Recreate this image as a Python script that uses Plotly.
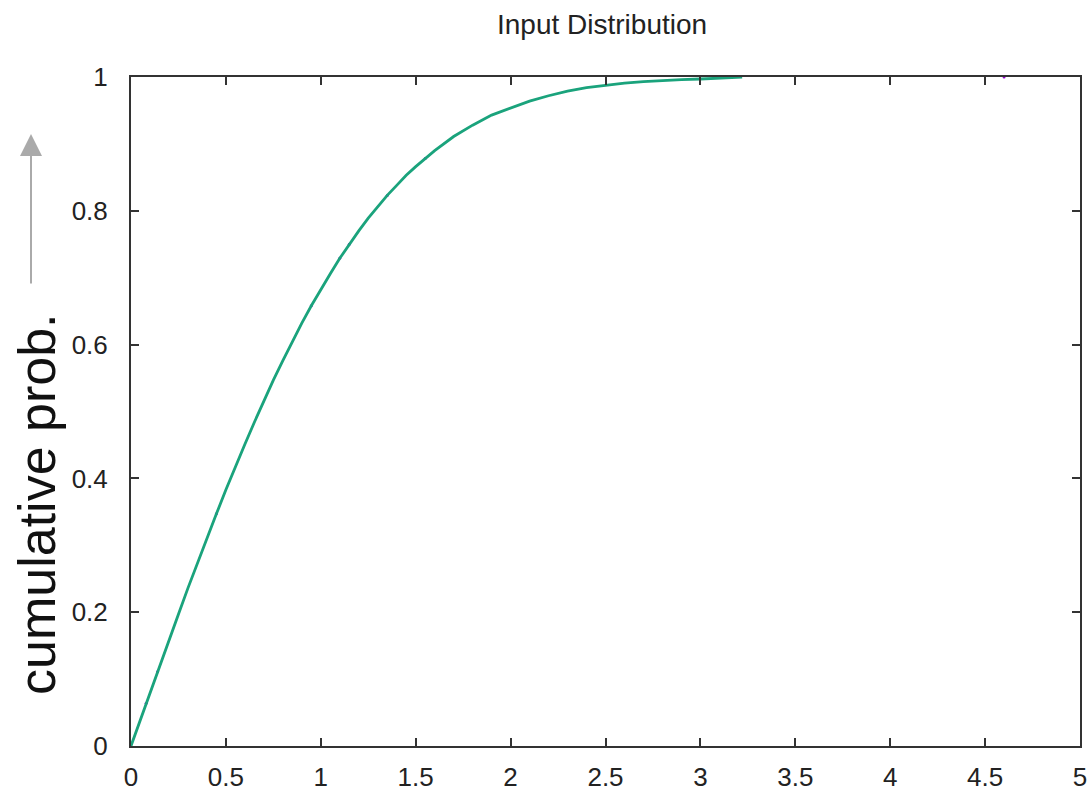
import plotly.graph_objects as go

# Cumulative distribution
x_vals = [0, 0.05, 0.1, 0.15, 0.2, 0.25, 0.3, 0.35, 0.4, 0.45, 0.5, 0.55, 0.6, 0.65, 0.7,
          0.75, 0.8, 0.85, 0.9, 0.95, 1.0, 1.05, 1.1, 1.15, 1.2, 1.25, 1.3, 1.35, 1.4, 1.45,
          1.5, 1.6, 1.7, 1.8, 1.9, 2.0, 2.1, 2.2, 2.3, 2.4, 2.5, 2.6, 2.7, 2.8, 2.9, 3.0,
          3.1, 3.22]
cum_prob = [0, 0.040, 0.080, 0.119, 0.159, 0.197, 0.236, 0.274, 0.311, 0.347, 0.383,
            0.418, 0.451, 0.484, 0.516, 0.547, 0.576, 0.605, 0.632, 0.658, 0.683, 0.706,
            0.729, 0.750, 0.770, 0.789, 0.806, 0.823, 0.838, 0.853, 0.866, 0.890, 0.911,
            0.928, 0.943, 0.954, 0.964, 0.972, 0.979, 0.984, 0.988, 0.991, 0.993, 0.995,
            0.996, 0.997, 0.998, 1.0]

# Sparse purple sample points visible under the green curve
pts_x = [0.08, 0.14, 0.45, 0.95, 1.1, 1.15, 1.35, 1.55, 4.6]
pts_y = [0.064, 0.111, 0.347, 0.658, 0.729, 0.750, 0.823, 0.878, 1.0]

x_ticks = [0, 0.5, 1, 1.5, 2, 2.5, 3, 3.5, 4, 4.5, 5]
x_ticktext = ["0", "0.5", "1", "1.5", "2", "2.5", "3", "3.5", "4", "4.5", "5"]
y_ticks = [0, 0.2, 0.4, 0.6, 0.8, 1]
y_ticktext = ["0", "0.2", "0.4", "0.6", "0.8", "1"]

title_text = "Input Distribution"
ylabel_text = "cumulative prob."

fig = go.Figure()
fig.add_trace(go.Scatter(x=pts_x, y=pts_y, mode="markers",
                         marker=dict(color="#9400d3", size=3), showlegend=False,
                         cliponaxis=False))
fig.add_trace(go.Scatter(x=x_vals, y=cum_prob, mode="lines",
                         line=dict(color="#1aa37c", width=2.8), showlegend=False))

axis_common = dict(showgrid=False, zeroline=False, showline=True, linecolor="#333333",
                   linewidth=2, mirror="allticks", ticks="inside", ticklen=8,
                   tickwidth=2, tickcolor="#333333", automargin=False,
                   tickfont=dict(family="Liberation Sans, Arial, sans-serif", size=26,
                                 color="#222222"))

fig.update_xaxes(range=[0, 5], tickvals=x_ticks, ticktext=x_ticktext,
                 ticklabelstandoff=7, **axis_common)
fig.update_yaxes(range=[0, 1], tickvals=y_ticks, ticktext=y_ticktext,
                 ticklabelstandoff=16, **axis_common)

fig.update_layout(
    width=1092, height=791,
    margin=dict(l=131, r=12, t=77, b=45, autoexpand=False),
    paper_bgcolor="white", plot_bgcolor="white",
    annotations=[
        dict(text=title_text, xref="paper", yref="paper", x=(602 - 131) / 949,
             y=(746 - 25) / 669, xanchor="center", yanchor="middle", showarrow=False,
             font=dict(family="Liberation Sans, Arial, sans-serif", size=28,
                       color="#222222")),
        dict(text=ylabel_text, xref="paper", yref="paper", x=(37 - 131) / 949,
             y=(746 - 504) / 669, xanchor="center", yanchor="middle", textangle=-90,
             showarrow=False,
             font=dict(family="Liberation Sans, Arial, sans-serif", size=52,
                       color="#111111")),
        dict(text="", xref="paper", yref="paper", x=(31 - 131) / 949,
             y=(746 - 134) / 669, ax=0, ay=151, showarrow=True, arrowhead=2,
             arrowsize=2.2, arrowwidth=2, arrowcolor="#aaaaaa"),
    ],
)

fig.write_html("out.html")
